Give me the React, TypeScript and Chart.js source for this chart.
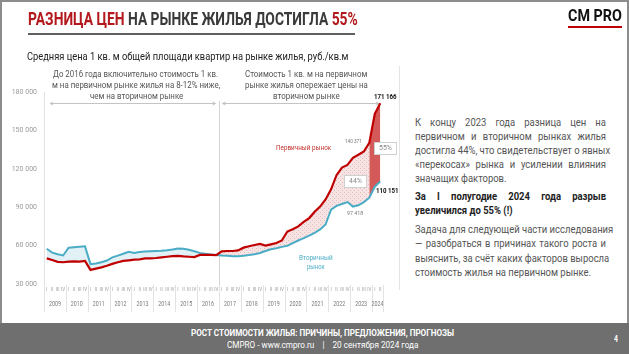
import React, { useEffect, useLayoutEffect, useRef, useState } from 'react';
import { Chart, registerables } from 'chart.js';

Chart.register(...registerables);

// ---------- DATA ----------
const years = ['2009', '2010', '2011', '2012', '2013', '2014', '2015', '2016', '2017', '2018', '2019', '2020', '2021', '2022', '2023', '2024'];
const quarterNames = ['I', 'II', 'III', 'IV'];
const quartersPerYear = [4, 4, 4, 4, 4, 4, 4, 4, 4, 4, 4, 4, 4, 4, 4, 2];
const categories: string[] = years.flatMap((y, i) => quarterNames.slice(0, quartersPerYear[i]).map((q) => `${q} ${y}`));

// Первичный рынок, руб./кв.м
const primaryPrice = [
  50000, 48700, 47300, 47000,
  47500, 47600, 47500, 48000,
  41000, 42000, 43000, 44200,
  45700, 47000, 48000, 48500,
  49000, 49300, 50000, 50000,
  50300, 50800, 51300, 51800,
  52000, 51600, 51300, 51000,
  52700, 52700, 52700, 52500,
  55500, 55800, 55800, 56200,
  58400, 59500, 60500, 61300,
  60000, 61000, 62000, 64000,
  71000, 72800, 75000, 78500,
  81500, 86500, 90500, 96000,
  104000, 115000, 121000, 123000,
  128500, 131000, 133500, 140371,
  163000, 171166,
];

// Вторичный рынок, руб./кв.м
const secondaryPrice = [
  57500, 54500, 53200, 52300,
  58300, 58800, 59100, 59400,
  45500, 46000, 47000, 48300,
  50800, 52200, 53600, 55200,
  54300, 55000, 55400, 55600,
  55800, 56000, 56400, 56900,
  57700, 57500, 56800, 55600,
  54300, 53600, 53100, 52700,
  52300, 52000, 51600, 51700,
  52100, 52600, 53200, 54200,
  55800, 57200, 58000, 59000,
  59800, 62000, 64000, 65800,
  67800, 70000, 72600, 76500,
  88000, 91000, 92500, 94000,
  90500, 91500, 94000, 97418,
  106000, 110151,
];

const yMin = 30000;
const yMax = 180000;
const yStep = 30000;
const gapStartIndex = 59; // IV кв. 2023
const dividerYear = '2017';

const fmt = (v: number) => String(v).replace(/\B(?=(\d{3})+(?!\d))/g, ' ');

// ---------- TEXT HELPERS ----------
type FitProps = {
  x: number; y: number; w: number; text: string; size: number;
  color?: string; weight?: number; align?: 'left' | 'center' | 'right';
};
function Fit({ x, y, w, text, size, color = '#333', weight = 400, align = 'left' }: FitProps) {
  const ref = useRef<HTMLSpanElement>(null);
  const [s, setS] = useState(1);
  useLayoutEffect(() => {
    if (ref.current) {
      const nw = ref.current.offsetWidth;
      if (nw) setS(w / nw);
    }
  }, [w, text, size]);
  const left = align === 'center' ? x - w / 2 : align === 'right' ? x - w : x;
  return (
    <span
      ref={ref}
      style={{
        position: 'absolute', left, top: y - size * 0.62, fontSize: size, lineHeight: `${size * 1.2}px`,
        whiteSpace: 'pre', color, fontWeight: weight, fontFamily: 'Roboto',
        transform: `scaleX(${s})`, transformOrigin: 'left top',
      }}
    >
      {text}
    </span>
  );
}

function JLine({ x, y, w, text, size, color, weight = 400, sx, justify }: {
  x: number; y: number; w: number; text: string; size: number; color: string; weight?: number; sx: number; justify: boolean;
}) {
  return (
    <div
      style={{
        position: 'absolute', left: x, top: y - size * 0.62, width: w / sx, fontSize: size,
        lineHeight: `${size * 1.2}px`, whiteSpace: 'nowrap', color, fontWeight: weight, fontFamily: 'Roboto',
        textAlign: justify ? 'justify' : 'left', textAlignLast: justify ? 'justify' : 'left',
        transform: `scaleX(${sx})`, transformOrigin: 'left top',
      }}
    >
      {text}
    </div>
  );
}

const para1 = [
  'К концу 2023 года разница цен на',
  'первичном и вторичном рынках жилья',
  'достигла 44%, что свидетельствует о явных',
  '«перекосах» рынка и усилении влияния',
  'значащих факторов.',
];
const para2 = ['За I полугодие 2024 года разрыв', 'увеличился до 55% (!)'];
const para3 = [
  'Задача для следующей части исследования',
  '—  разобраться в причинах такого роста и',
  'выяснить, за счёт каких факторов выросла',
  'стоимость жилья на первичном рынке.',
];

export default function App() {
  const canvasRef = useRef<HTMLCanvasElement>(null);

  useEffect(() => {
    document.body.style.margin = '0';
    const canvas = canvasRef.current!;
    const ctx = canvas.getContext('2d')!;

    const pc = document.createElement('canvas');
    pc.width = 4; pc.height = 4;
    const pctx = pc.getContext('2d')!;
    pctx.fillStyle = '#f6e4e4';
    pctx.fillRect(0, 0, 4, 4);
    pctx.fillStyle = '#e6bcbc';
    pctx.fillRect(0, 0, 1, 1);
    pctx.fillRect(2, 2, 1, 1);
    const pattern = ctx.createPattern(pc, 'repeat')!;

    const firstIdxOfYear = (yr: string) => categories.findIndex((c) => c.endsWith(yr));

    const decor = {
      id: 'decor',
      beforeDatasetsDraw(chart: any) {
        const { ctx: c, chartArea: a, scales } = chart;
        const xs = scales.x;
        const slot = xs.getPixelForValue(1) - xs.getPixelForValue(0);
        const dx = Math.round(xs.getPixelForValue(firstIdxOfYear(dividerYear)) - slot / 2) + 0.5;
        c.save();
        c.strokeStyle = '#d4d4d4';
        c.lineWidth = 1;
        c.beginPath();
        c.moveTo(dx, 101);
        c.lineTo(dx, a.bottom + 28);
        c.stroke();
        const ay = 103.5;
        const arrow = (x1: number, x2: number) => {
          c.strokeStyle = '#c4c4c4';
          c.beginPath();
          c.moveTo(x1, ay); c.lineTo(x2, ay);
          c.moveTo(x1 + 3, ay - 1.5); c.lineTo(x1, ay); c.lineTo(x1 + 3, ay + 1.5);
          c.moveTo(x2 - 3, ay - 1.5); c.lineTo(x2, ay); c.lineTo(x2 - 3, ay + 1.5);
          c.stroke();
        };
        arrow(a.left + 6, dx - 4);
        arrow(dx + 3, a.right - 4);
        c.restore();
      },
      afterDraw(chart: any) {
        const { ctx: c, chartArea: a, scales } = chart;
        const xs = scales.x;
        const slot = xs.getPixelForValue(1) - xs.getPixelForValue(0);
        c.save();
        let start = 0;
        const sep = (px: number) => {
          const bx = Math.round(px) + 0.5;
          c.strokeStyle = '#e3e3e3';
          c.lineWidth = 1;
          c.beginPath();
          c.moveTo(bx, a.bottom + 1);
          c.lineTo(bx, a.bottom + 28);
          c.stroke();
        };
        quartersPerYear.forEach((n, yi) => {
          const bx = xs.getPixelForValue(start) - slot / 2;
          sep(bx);
          const cx = bx + (n * slot) / 2;
          c.save();
          c.translate(cx, a.bottom + 20);
          c.scale(0.82, 1);
          c.fillStyle = '#7a7a7a';
          c.font = '6.5px Roboto';
          c.textAlign = 'center';
          c.textBaseline = 'middle';
          c.fillText(years[yi], 0, 0);
          c.restore();
          start += n;
        });
        sep(xs.getPixelForValue(start - 1) + slot / 2);
        c.restore();
      },
    };

    const chart = new Chart(canvas, {
      type: 'line',
      data: {
        labels: categories,
        datasets: [
          {
            label: 'Первичный рынок',
            data: primaryPrice,
            borderColor: '#c00000',
            borderWidth: 2.2,
            pointRadius: 0,
            tension: 0,
            order: 0,
            fill: { target: 1, above: pattern, below: '#e2f1f5' },
          },
          {
            label: 'Вторичный рынок',
            data: secondaryPrice,
            borderColor: '#4bacc6',
            borderWidth: 2,
            pointRadius: 0,
            tension: 0,
            order: 1,
            fill: false,
          },
          {
            label: 'gap',
            data: primaryPrice.map((v, i) => (i >= gapStartIndex ? v : null)),
            borderWidth: 0,
            borderColor: 'rgba(0,0,0,0)',
            pointRadius: 0,
            tension: 0,
            order: -1,
            fill: { target: 1, above: '#d45959', below: '#d45959' },
          },
        ],
      },
      options: {
        responsive: false,
        animation: false,
        events: [],
        layout: { padding: { top: 92, right: 17, bottom: 0, left: 0 } },
        plugins: {
          legend: { display: false },
          tooltip: { enabled: false },
          filler: { drawTime: 'beforeDatasetsDraw' },
        },
        scales: {
          x: {
            type: 'category',
            offset: true,
            grid: { display: false, drawTicks: false },
            border: { display: false },
            afterFit: (s: any) => { s.height = 36; },
            ticks: {
              autoSkip: false,
              maxRotation: 0,
              minRotation: 0,
              padding: 3,
              color: '#9a9a9a',
              font: { size: 4.5, family: 'Roboto' },
              callback: (_v: any, i: number) => categories[i].split(' ')[0],
            },
          },
          y: {
            min: yMin,
            max: yMax,
            grid: { display: false, drawTicks: false },
            border: { display: true, color: '#e2e2e2' },
            afterFit: (s: any) => { s.width = 44; },
            ticks: {
              stepSize: yStep,
              padding: 7,
              color: '#9a9a9a',
              font: { size: 7, family: 'Roboto' },
              callback: (v: any) => fmt(Number(v)),
            },
          },
        },
      },
      plugins: [decor],
    });
    return () => chart.destroy();
  }, []);

  const gray = '#555';
  return (
    <div style={{ position: 'fixed', left: 0, top: 0, width: 629, height: 354, background: '#fff', overflow: 'hidden', fontFamily: 'Roboto' }}>
      {/* frame */}
      <div style={{ position: 'absolute', left: 0, top: 0, width: 629, height: 2, background: '#8c8c8c' }} />
      <div style={{ position: 'absolute', left: 0, top: 0, width: 2, height: 354, background: '#8c8c8c' }} />
      <div style={{ position: 'absolute', right: 0, top: 0, width: 2, height: 354, background: '#8c8c8c' }} />
      {/* footer */}
      <div style={{ position: 'absolute', left: 0, top: 323, width: 629, height: 31, background: '#6f6f6f' }} />

      <canvas ref={canvasRef} width={400} height={320} style={{ position: 'absolute', left: 0, top: 0, width: 400, height: 320 }} />

      {/* title */}
      <TitleLine />
      <div style={{ position: 'absolute', left: 28, top: 33, width: 327, height: 2, background: '#5f5f5f' }} />
      <Fit x={568} y={16} w={54} text="CM PRO" size={17} weight={700} color="#111" />
      <div style={{ position: 'absolute', left: 568, top: 26, width: 54, height: 2, background: '#c00000' }} />

      <Fit x={27} y={57} w={321} text="Средняя цена 1 кв. м общей площади квартир на рынке жилья, руб./кв.м" size={11} color="#222" />
      <div style={{ position: 'absolute', left: 399, top: 66, width: 1, height: 224, background: '#e4e4e4' }} />

      {/* annotations */}
      <Fit x={53} y={74} w={165} text="До 2016 года включительно стоимость 1 кв." size={9.5} color={gray} />
      <Fit x={52} y={85} w={168} text="м на первичном рынке жилья на 8-12% ниже," size={9.5} color={gray} />
      <Fit x={90} y={96} w={93} text="чем на вторичном рынке" size={9.5} color={gray} />
      <Fit x={245} y={74} w={122} text="Стоимость 1 кв. м на первичном" size={9.5} color={gray} />
      <Fit x={245} y={85} w={123} text="рынке жилья опережает цены на" size={9.5} color={gray} />
      <Fit x={273} y={96} w={67} text="вторичном рынке" size={9.5} color={gray} />

      <Fit x={374} y={96.5} w={23} text={fmt(171166)} size={8} weight={700} color="#111" />
      <Fit x={376} y={191} w={23} text={fmt(110151)} size={8} weight={700} color="#111" />
      <Fit x={345} y={141} w={17} text={fmt(140371)} size={6} color="#777" />
      <Fit x={347} y={213} w={16} text={fmt(97418)} size={6} color="#777" />
      <Fit x={276} y={148} w={55} text="Первичный рынок" size={7.5} color="#c0302b" />
      <Fit x={316} y={258} w={34} text="Вторичный" size={7.5} color="#4bacc6" align="center" />
      <Fit x={316} y={267} w={18} text="рынок" size={7.5} color="#4bacc6" align="center" />

      <div style={{ position: 'absolute', left: 374, top: 142, width: 21, height: 11, background: '#fff', border: '1px solid #d0d0d0' }} />
      <Fit x={379} y={148} w={13} text="55%" size={8} color="#888" />
      <div style={{ position: 'absolute', left: 344, top: 175, width: 21, height: 11, background: '#fff', border: '1px solid #d0d0d0' }} />
      <Fit x={349} y={181} w={13} text="44%" size={8} color="#888" />

      {/* right panel */}
      {para1.map((t, i) => (
        <JLine key={'a' + i} x={415} y={122.7 + i * 14} w={191} text={t} size={11} color="#555" sx={0.86} justify={i < para1.length - 1} />
      ))}
      {para2.map((t, i) => (
        <JLine key={'b' + i} x={415} y={197.3 + i * 14} w={191} text={t} size={11} color="#222" weight={700} sx={0.86} justify={i < para2.length - 1} />
      ))}
      {para3.map((t, i) => (
        <JLine key={'c' + i} x={415} y={230 + i * 14.2} w={191} text={t} size={11} color="#555" sx={0.86} justify={i < para3.length - 1} />
      ))}

      {/* footer text */}
      <Fit x={322.5} y={333.5} w={263} text="РОСТ СТОИМОСТИ ЖИЛЬЯ: ПРИЧИНЫ, ПРЕДЛОЖЕНИЯ, ПРОГНОЗЫ" size={8.5} weight={700} color="#fff" align="center" />
      <Fit x={322.5} y={345.5} w={191} text="CMPRO - www.cmpro.ru    |    20 сентября 2024 года" size={8.5} color="#fff" align="center" />
      <Fit x={614} y={339} w={4} text="4" size={8.5} weight={700} color="#fff" />
    </div>
  );
}

function TitleLine() {
  const ref = useRef<HTMLSpanElement>(null);
  const [s, setS] = useState(1);
  useLayoutEffect(() => {
    if (ref.current) setS(330 / ref.current.offsetWidth);
  }, []);
  return (
    <span
      ref={ref}
      style={{
        position: 'absolute', left: 28, top: 20 - 19 * 0.62, fontSize: 19, lineHeight: `${19 * 1.2}px`,
        fontWeight: 700, whiteSpace: 'nowrap', fontFamily: 'Roboto', transform: `scaleX(${s})`, transformOrigin: 'left top',
      }}
    >
      <span style={{ color: '#b3181c' }}>РАЗНИЦА ЦЕН</span>
      <span style={{ color: '#3a3a3a' }}> НА РЫНКЕ ЖИЛЬЯ ДОСТИГЛА </span>
      <span style={{ color: '#b3181c' }}>55%</span>
    </span>
  );
}
